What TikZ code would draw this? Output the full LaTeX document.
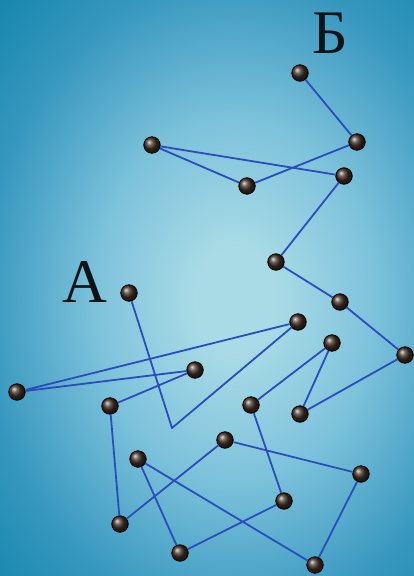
\documentclass[tikz,border=0pt]{standalone}
\usepackage{fontspec}
\setmainfont{Liberation Serif}
\usepackage{xcolor}
\usepackage{tikz}
\usetikzlibrary{positioning}
\definecolor{bgLight}{HTML}{A9DBE6}
\definecolor{bgSoft}{HTML}{7DC2DB}
\definecolor{bgMid}{HTML}{3898BF}
\definecolor{bgDark}{HTML}{1787AE}
\definecolor{bgEdge}{HTML}{117EA6}
\definecolor{pathBlue}{HTML}{2B4DBC}
\definecolor{dotBrown}{HTML}{3E2C22}
\definecolor{letterInk}{HTML}{0E1318}

\pgfdeclareradialshading{bgglow}{\pgfpoint{0bp}{0bp}}{%
  color(0bp)=(bgLight); color(4bp)=(bgLight); color(14bp)=(bgSoft);
  color(25bp)=(bgMid); color(33bp)=(bgDark); color(50bp)=(bgEdge)}

\begin{document}
\begin{tikzpicture}[
  x=1pt, y=-1pt,
  every node/.style={font=\rmfamily},
  dot/.style={
    circle, inner sep=0pt, minimum size=16.5pt,
    draw=black, line width=0.8pt, ball color=dotBrown,
  },
  letter/.style={
    font=\fontsize{62}{62}\selectfont, text=letterInk, inner sep=0pt,
  },
  link/.style={pathBlue, line width=1.8pt, line join=round},
]

% === Background ===
\useasboundingbox (0,0) rectangle (414,576);
\clip (0,0) rectangle (414,576);
\shade[shading=bgglow] (-15,-20) rectangle (485,620);

% === Labels ===
\node[letter] (labA) at (85,282) {А};
\node[letter] (labB) at (330,33) {Б};

% === Dots along the path ===
\node[dot] (start) at (129,293) {};
\coordinate (bend) at (172,428);
\node[dot] (d1) at (298,322) {};
\node[dot] (d2) at (17,392) {};
\node[dot] (d3) at (195,370) {};
\node[dot] (d4) at (110,406) {};
\node[dot] (d5) at (120,524) {};
\node[dot] (d6) at (225,440) {};
\node[dot] (d7) at (361,474) {};
\node[dot] (d8) at (315,565) {};
\node[dot] (d9) at (138,459) {};
\node[dot] (d10) at (180,553) {};
\node[dot] (d11) at (284,501) {};
\node[dot] (d12) at (251,405) {};
\node[dot] (d13) at (332,343) {};
\node[dot] (d14) at (300,414) {};
\node[dot] (d15) at (405,355) {};
\node[dot] (d16) at (340,302) {};
\node[dot] (d17) at (276,262) {};
\node[dot] (d18) at (344,176) {};
\node[dot] (d19) at (152,145) {};
\node[dot] (d20) at (247,186) {};
\node[dot] (d21) at (357,142) {};
\node[dot] (finish) at (300,73) {};

% === Path from A to B ===
\draw[link] (start) -- (bend) -- (d1) -- (d2) -- (d3) -- (d4) -- (d5)
  -- (d6) -- (d7) -- (d8) -- (d9) -- (d10) -- (d11) -- (d12) -- (d13)
  -- (d14) -- (d15) -- (d16) -- (d17) -- (d18) -- (d19) -- (d20)
  -- (d21) -- (finish);

\end{tikzpicture}
\end{document}
